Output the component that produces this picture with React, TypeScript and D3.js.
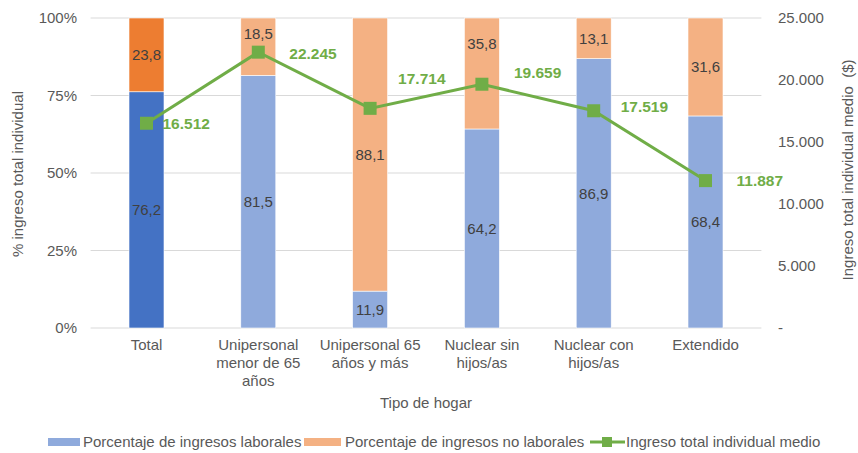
import React from "react";
import * as d3 from "d3";

const categories = [
  "Total",
  "Unipersonal menor de 65 años",
  "Unipersonal 65 años y más",
  "Nuclear sin hijos/as",
  "Nuclear con hijos/as",
  "Extendido",
];
const tickLines = [
  ["Total"],
  ["Unipersonal", "menor de 65", "años"],
  ["Unipersonal 65", "años y más"],
  ["Nuclear sin", "hijos/as"],
  ["Nuclear con", "hijos/as"],
  ["Extendido"],
];
const laborales = [76.2, 81.5, 11.9, 64.2, 86.9, 68.4];
const noLaborales = [23.8, 18.5, 88.1, 35.8, 13.1, 31.6];
const ingresoMedio = [16512, 22245, 17714, 19659, 17519, 11887];
const leftTicks = [0, 25, 50, 75, 100];
const rightTicks = [0, 5000, 10000, 15000, 20000, 25000];

// label styling offsets (px)
const noLabLabelDy = [0, -13, 0, -30, 0, 0];
const lineLabelDx = [16, 31, 28, 32, 27, 31];
const lineLabelDy = [0, 1, -30, -12, -4, 0];

const W = 858;
const H = 453;
const FONT = "'Liberation Sans', Arial, sans-serif";
const AXIS_COLOR = "#595959";
const LABEL_COLOR = "#404040";
const GRID = "#D9D9D9";
const GREEN = "#70AD47";
const FS = 15;

export default function App() {
  const left = 90.6;
  const right = 761.4;
  const top = 18;
  const bottom = 328;

  const x = d3.scalePoint<string>().domain(categories).range([left, right]).padding(0.5);
  const step = x.step();
  const barW = step * 0.313;
  const yL = d3.scaleLinear().domain([0, 100]).range([bottom, top]);
  const yR = d3.scaleLinear().domain([0, 25000]).range([bottom, top]);

  const fmtComma = (v: number) => v.toFixed(1).replace(".", ",");
  const fmtThousands = (v: number) =>
    v === 0 ? "-" : d3.format(",")(v).replace(/,/g, ".");

  const line = d3
    .line<number>()
    .x((_, i) => x(categories[i]) as number)
    .y((d) => yR(d));

  const labColor = (i: number) => (i === 0 ? "#4472C4" : "#8FAADC");
  const noLabColor = (i: number) => (i === 0 ? "#ED7D31" : "#F4B183");

  const ms = 13;

  return (
    <svg
      width={W}
      height={H}
      style={{ position: "absolute", left: 0, top: 0, background: "#fff" }}
      fontFamily={FONT}
    >
      {leftTicks.map((t) => (
        <line key={t} x1={left} x2={right} y1={yL(t)} y2={yL(t)} stroke={GRID} strokeWidth={1} />
      ))}
      {leftTicks.map((t) => (
        <text key={"l" + t} x={77} y={yL(t)} dy="0.35em" textAnchor="end" fontSize={FS} fill={AXIS_COLOR}>
          {t + "%"}
        </text>
      ))}
      {rightTicks.map((t) => (
        <text key={"r" + t} x={778} y={yR(t)} dy="0.35em" textAnchor="start" fontSize={FS} fill={AXIS_COLOR}>
          {fmtThousands(t)}
        </text>
      ))}
      {categories.map((c, i) => {
        const cx = x(c) as number;
        const yTop1 = yL(laborales[i]);
        const yTop2 = yL(laborales[i] + noLaborales[i]);
        return (
          <g key={c}>
            <rect x={cx - barW / 2} y={yTop1} width={barW} height={bottom - yTop1} fill={labColor(i)} stroke="#fff" strokeWidth={0.6} />
            <rect x={cx - barW / 2} y={yTop2} width={barW} height={yTop1 - yTop2} fill={noLabColor(i)} stroke="#fff" strokeWidth={0.6} />
            <text x={cx} y={(bottom + yTop1) / 2} dy="0.35em" textAnchor="middle" fontSize={15} fill={LABEL_COLOR}>
              {fmtComma(laborales[i])}
            </text>
            <text x={cx} y={(yTop1 + yTop2) / 2 + noLabLabelDy[i]} dy="0.35em" textAnchor="middle" fontSize={15} fill={LABEL_COLOR}>
              {fmtComma(noLaborales[i])}
            </text>
          </g>
        );
      })}
      <path d={line(ingresoMedio) || ""} fill="none" stroke={GREEN} strokeWidth={3} />
      {ingresoMedio.map((v, i) => {
        const cx = x(categories[i]) as number;
        const cy = yR(v);
        return (
          <g key={"m" + i}>
            <rect x={cx - ms / 2} y={cy - ms / 2} width={ms} height={ms} fill={GREEN} />
            <text x={cx + lineLabelDx[i]} y={cy + lineLabelDy[i]} dy="0.35em" fontSize={15.5} fontWeight="bold" fill={GREEN}>
              {fmtThousands(v)}
            </text>
          </g>
        );
      })}
      {categories.map((c, i) => (
        <text key={"x" + i} x={x(c) as number} textAnchor="middle" fontSize={FS} fill={AXIS_COLOR}>
          {tickLines[i].map((ln, j) => (
            <tspan key={j} x={x(c) as number} y={345 + j * 18} dy="0.35em">
              {ln}
            </tspan>
          ))}
        </text>
      ))}
      <text x={(left + right) / 2} y={403} dy="0.35em" textAnchor="middle" fontSize={FS} fill={AXIS_COLOR}>
        Tipo de hogar
      </text>
      <text transform={`translate(18,174) rotate(-90)`} dy="0.35em" textAnchor="middle" fontSize={FS} fill={AXIS_COLOR}>
        % ingreso total individual
      </text>
      <text
        transform={`translate(848,170) rotate(-90)`}
        dy="0.35em"
        textAnchor="middle"
        fontSize={FS}
        fill={AXIS_COLOR}
        style={{ whiteSpace: "pre" }}
      >
        {"Ingreso total individual medio  ($)"}
      </text>
      <g fontSize={FS} fill={AXIS_COLOR}>
        <rect x={48} y={438} width={32} height={8} fill="#8FAADC" />
        <text x={83} y={442} dy="0.35em">Porcentaje de ingresos laborales</text>
        <rect x={304} y={438} width={37} height={8} fill="#F4B183" />
        <text x={345} y={442} dy="0.35em">Porcentaje de ingresos no laborales</text>
        <line x1={590} x2={625} y1={442} y2={442} stroke={GREEN} strokeWidth={3} />
        <rect x={602} y={437} width={10} height={10} fill={GREEN} />
        <text x={626} y={442} dy="0.35em">Ingreso total individual medio</text>
      </g>
    </svg>
  );
}
